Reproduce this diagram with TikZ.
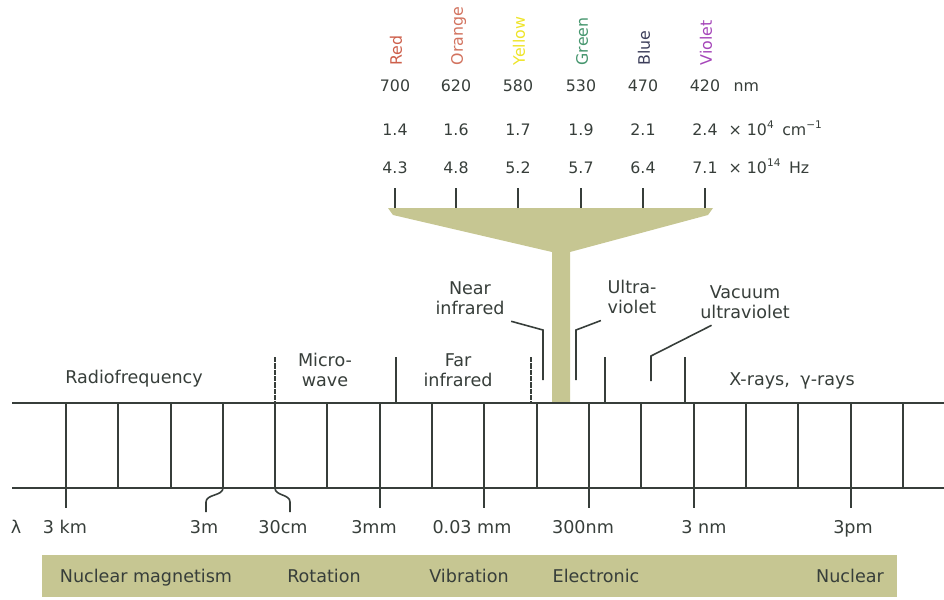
\documentclass[tikz,border=0pt]{standalone}
\usepackage{fontspec}
\usepackage{xcolor}
\setmainfont{DejaVu Sans}
\usetikzlibrary{positioning}

\definecolor{ink}{RGB}{55,62,58}
\definecolor{khaki}{RGB}{198,198,146}
\definecolor{cred}{RGB}{205,95,75}
\definecolor{corange}{RGB}{210,115,95}
\definecolor{cyellow}{RGB}{238,228,40}
\definecolor{cgreen}{RGB}{70,150,110}
\definecolor{cblue}{RGB}{60,62,90}
\definecolor{cviolet}{RGB}{165,70,185}

\tikzset{
  band/.style={font=\fontsize{10}{11.5}\selectfont, text=ink, align=center},
  scalelabel/.style={font=\fontsize{10}{12}\selectfont, text=ink, anchor=base},
  numlabel/.style={font=\fontsize{9}{10}\selectfont, text=ink},
  dashtick/.style={dash pattern=on 3pt off 0.6pt}
}

\begin{document}
\begin{tikzpicture}[x=0.02cm,y=-0.02cm,line width=0.9pt]
\useasboundingbox (0,0) rectangle (944,599);
\fill[khaki] (388,208) -- (713,208) -- (708,215) -- (570,252) -- (570,403) -- (552,403) -- (552,252) -- (393,215) -- cycle;
\foreach \x/\name/\col/\nm/\wn/\fr in {395/Red/cred/700/1.4/4.3, 456/Orange/corange/620/1.6/4.8, 518/Yellow/cyellow/580/1.7/5.2, 581/Green/cgreen/530/1.9/5.7, 643/Blue/cblue/470/2.1/6.4, 705/Violet/cviolet/420/2.4/7.1} {
  \node[numlabel, rotate=90, anchor=mid west, text=\col] (\name) at (\x+2,72) {\name};
  \node[numlabel, anchor=base] (nm\name) at (\x,91) {\nm};
  \node[numlabel, anchor=base] (wn\name) at (\x,135) {\wn};
  \node[numlabel, anchor=base] (fr\name) at (\x,173) {\fr};
  \draw[ink] (\x,188) -- (\x,208);
}
\node[numlabel, anchor=base west] (unitnm) at (727,91) {nm};
\node[numlabel, anchor=base west] (unitwn) at (722,135) {× 10\textsuperscript{4}\, cm\textsuperscript{−1}};
\node[numlabel, anchor=base west] (unitfr) at (722,173) {× 10\textsuperscript{14}\, Hz};
\draw[ink] (12,403) -- (944,403);
\draw[ink] (12,488) -- (944,488);
\foreach \x in {66,118,171,223,275,327,380,432,484,537,589,641,694,746,798,851,903} {
  \draw[ink] (\x,403) -- (\x,488);
}
\draw[ink, dashtick] (275,357) -- (275,403);
\draw[ink] (396,357) -- (396,403);
\draw[ink, dashtick] (531,357) -- (531,403);
\draw[ink] (605,357) -- (605,403);
\draw[ink] (685,357) -- (685,403);
\node[band] (radio) at (134,379) {Radiofrequency};
\node[band] (micro) at (325,370) {Micro-\\wave};
\node[band] (far) at (458,370) {Far\\infrared};
\node[band] (nir) at (470,298) {Near\\infrared};
\node[band] (uv) at (632,297) {Ultra-\\violet};
\node[band] (vuv) at (745,302) {Vacuum\\ultraviolet};
\node[band] (xray) at (792,381) {X-rays,\; γ-rays};
\draw[ink] (nir.south east) -- (543,330) -- (543,380);
\draw[ink] (uv.south west) -- (576,330) -- (576,380);
\draw[ink] ([xshift=0.36cm]vuv.south west) -- (651,356) -- (651,381);
\foreach \x in {66,380,484,589,694,851} {
  \draw[ink] (\x,488) -- (\x,508);
}
\draw[ink] (223,488) .. controls (223,496) and (206,494) .. (206,502) -- (206,512);
\draw[ink] (275,488) .. controls (275,496) and (290,494) .. (290,502) -- (290,512);
\node[scalelabel] (lambda) at (16,533) {λ};
\node[scalelabel] (km) at (65,533) {3 km};
\node[scalelabel] (m) at (204,533) {3m};
\node[scalelabel] (cm) at (283,533) {30cm};
\node[scalelabel] (mm) at (374,533) {3mm};
\node[scalelabel] (tmm) at (472,533) {0.03 mm};
\node[scalelabel] (hnm) at (583,533) {300nm};
\node[scalelabel] (nm) at (704,533) {3 nm};
\node[scalelabel] (pm) at (853,533) {3pm};
\fill[khaki] (42,555) rectangle (897,597);
\node[scalelabel] (nmag) at (146,582) {Nuclear magnetism};
\node[scalelabel] (rot) at (324,582) {Rotation};
\node[scalelabel] (vib) at (469,582) {Vibration};
\node[scalelabel] (elec) at (596,582) {Electronic};
\node[scalelabel] (nuc) at (850,582) {Nuclear};
\end{tikzpicture}
\end{document}
